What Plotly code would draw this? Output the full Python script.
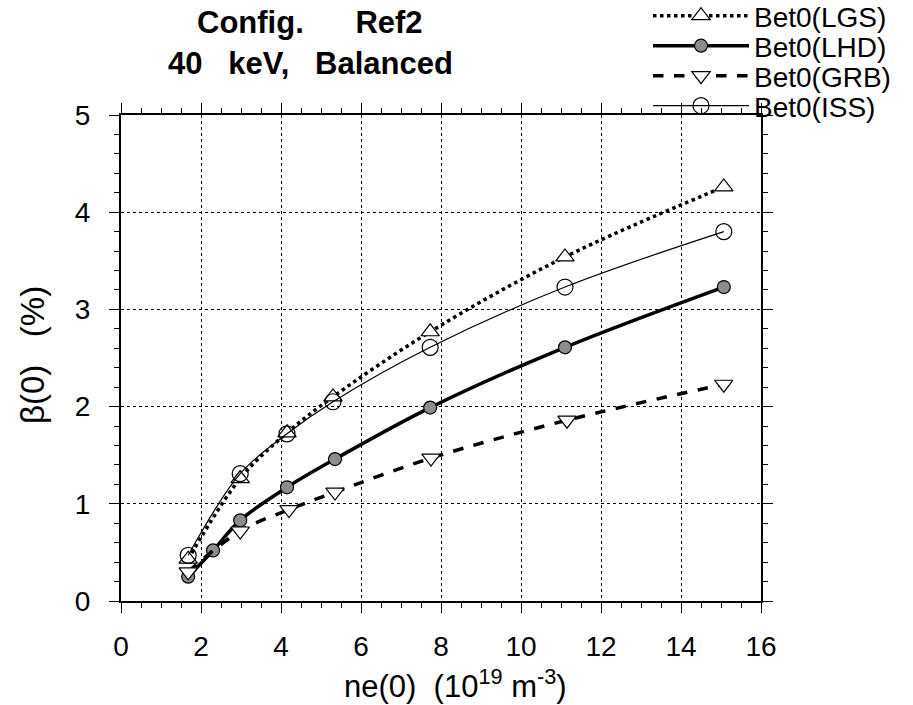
import plotly.graph_objects as go

x_lgs = [1.68, 2.98, 4.15, 5.3, 7.73, 11.1, 15.07]
y_lgs = [0.43, 1.26, 1.73, 2.1, 2.77, 3.54, 4.26]

x_lhd = [1.68, 2.3, 2.98, 4.15, 5.35, 7.73, 11.1, 15.07]
y_lhd = [0.25, 0.52, 0.83, 1.17, 1.46, 1.99, 2.61, 3.23]

x_grb = [1.68, 2.98, 4.2, 5.35, 7.75, 11.15, 15.07]
y_grb = [0.3, 0.72, 0.94, 1.12, 1.47, 1.86, 2.23]

x_iss = [1.68, 2.98, 4.15, 5.3, 7.73, 11.1, 15.07]
y_iss = [0.47, 1.31, 1.72, 2.05, 2.61, 3.23, 3.8]

x_ticks = [0, 2, 4, 6, 8, 10, 12, 14, 16]
y_ticks = [0, 1, 2, 3, 4, 5]

FONT = "Liberation Sans, Arial, Helvetica, sans-serif"

fig = go.Figure()
fig.add_trace(go.Scatter(
    x=x_lgs, y=y_lgs, name="Bet0(LGS)", mode="lines+markers", legend="legend",
    line=dict(color="black", width=3.5, dash="dot", shape="spline"),
    marker=dict(symbol="triangle-up", size=16, color="white",
                line=dict(color="black", width=1.2))))
fig.add_trace(go.Scatter(
    x=x_lhd, y=y_lhd, name="Bet0(LHD)", mode="lines+markers", legend="legend2",
    line=dict(color="black", width=3.5, shape="spline"),
    marker=dict(symbol="circle", size=13, color="#8c8c8c",
                line=dict(color="black", width=1.2))))
fig.add_trace(go.Scatter(
    x=x_grb, y=y_grb, name="Bet0(GRB)", mode="lines+markers", legend="legend3",
    line=dict(color="black", width=3.5, dash="dash", shape="spline"),
    marker=dict(symbol="triangle-down", size=16, color="white",
                line=dict(color="black", width=1.2))))
fig.add_trace(go.Scatter(
    x=x_iss, y=y_iss, name="Bet0(ISS)", mode="lines+markers", legend="legend4",
    line=dict(color="black", width=1.2, shape="spline"),
    marker=dict(symbol="circle-open", size=16, color="black",
                line=dict(color="black", width=1.2))))

axis_common = dict(
    showline=True, linecolor="black", linewidth=2, mirror="allticks",
    ticks="outside", ticklen=10, tickwidth=1.2, tickcolor="black",
    showgrid=True, gridcolor="black", gridwidth=1, griddash="dot",
    zeroline=False, tickfont=dict(family=FONT, size=28, color="black"),
)

fig.update_xaxes(
    range=[0, 16], tickvals=x_ticks, ticktext=[str(v) for v in x_ticks],
    ticklabelstandoff=9,
    minor=dict(dtick=0.5, ticks="outside", ticklen=5, tickcolor="black", showgrid=False),
    **axis_common)
fig.update_yaxes(
    range=[0, 5], tickvals=y_ticks, ticktext=[str(v) for v in y_ticks],
    ticklabelstandoff=13,
    minor=dict(dtick=0.2, ticks="outside", ticklen=5, tickcolor="black", showgrid=False),
    **axis_common)

PLOT_L, PLOT_R, PLOT_T, PLOT_B = 121, 761, 115, 601
W, H = 913, 705


def px_x(p):
    return (p - PLOT_L) / (PLOT_R - PLOT_L)


def px_y(p):
    return (PLOT_B - p) / (PLOT_B - PLOT_T)


annotations = [
    dict(text="<b>Config.      Ref2</b>", x=px_x(310), y=px_y(22), xref="paper", yref="paper",
         xanchor="center", yanchor="middle", showarrow=False,
         font=dict(family=FONT, size=31, color="black")),
    dict(text="<b>40   keV,   Balanced</b>", x=px_x(310), y=px_y(63), xref="paper", yref="paper",
         xanchor="center", yanchor="middle", showarrow=False,
         font=dict(family=FONT, size=31, color="black")),
    dict(text="ne(0)  (10<sup>19</sup> m<sup>-3</sup>)", x=px_x(455), y=px_y(684),
         xref="paper", yref="paper", xanchor="center", yanchor="middle", showarrow=False,
         font=dict(family=FONT, size=31, color="black")),
    dict(text="β(0)   (%)", x=px_x(32), y=px_y(355), xref="paper", yref="paper",
         xanchor="center", yanchor="middle", showarrow=False, textangle=-90,
         font=dict(family=FONT, size=33, color="black")),
]

leg_common = dict(xanchor="left", yanchor="middle", bgcolor="rgba(0,0,0,0)", borderwidth=0,
                  font=dict(family=FONT, size=28, color="black"), itemwidth=96)

LEG_X = 648
fig.update_layout(
    width=W, height=H,
    margin=dict(l=PLOT_L, r=W - PLOT_R, t=PLOT_T, b=H - PLOT_B, autoexpand=False),
    paper_bgcolor="white", plot_bgcolor="white",
    font=dict(family=FONT, color="black"),
    annotations=annotations,
    legend=dict(x=px_x(LEG_X), y=px_y(16), **leg_common),
    legend2=dict(x=px_x(LEG_X), y=px_y(46), **leg_common),
    legend3=dict(x=px_x(LEG_X), y=px_y(76), **leg_common),
    legend4=dict(x=px_x(LEG_X), y=px_y(106), **leg_common),
    showlegend=True,
)

fig.write_html("out.html")
